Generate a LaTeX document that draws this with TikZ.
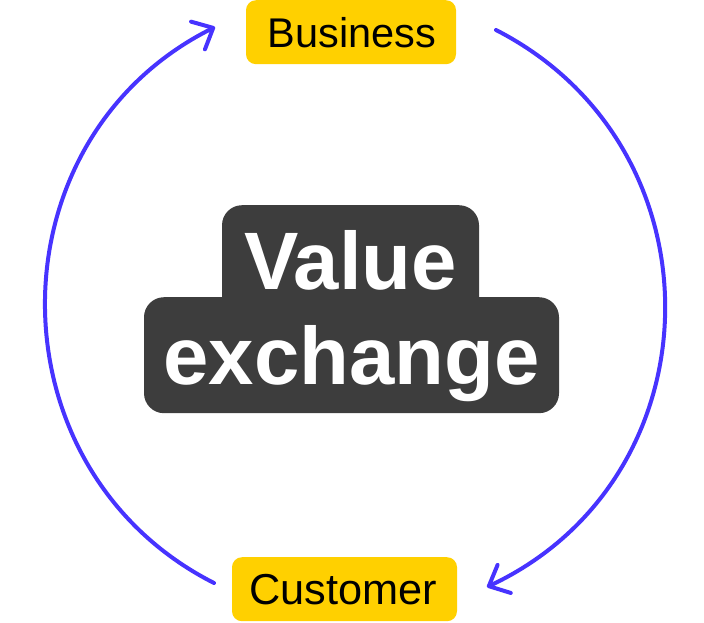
\documentclass[tikz,border=0pt]{standalone}
\usepackage{fontspec}
\setmainfont{Liberation Sans}
\usetikzlibrary{arrows.meta}
\definecolor{tagyellow}{HTML}{FFD000}
\definecolor{coredark}{HTML}{3D3D3D}
\definecolor{flowblue}{HTML}{4733FF}
\tikzset{
    tag/.style={fill=tagyellow, rounded corners=10pt, anchor=north, text=black, align=center,
        text height=47pt, text depth=17pt, font=\fontsize{41.5}{50}\selectfont},
    core/.style={fill=coredark, rounded corners=20pt, anchor=north, text=white, align=center,
        font=\bfseries\fontsize{81.5}{90}\selectfont},
    flow/.style={draw=flowblue, line width=4pt, line cap=round, looseness=1.18,
        -{Straight Barb[length=17pt,width=31pt,round]}}
}
\begin{document}
\begin{tikzpicture}[x=1pt,y=1pt]
                \tikzstyle{every node}+=[inner sep=0pt]
                \useasboundingbox (0,0) rectangle (704,-622);
                % the two boxes overlap, the lower one hides the corners of the upper one
                \node [core, text width=257pt, text height=84pt, text depth=36pt] (value) at (350.5,-205) {Value};
                \node [core, text width=415pt, text height=87pt, text depth=29pt] (exchange) at (351.5,-297) {exchange};
                \node [tag, text width=210pt] (business) at (351,0) {Business\hspace*{-2pt}};
                \node [tag, text width=225pt, font=\fontsize{43.3}{50}\selectfont] (customer) at (344.5,-557) {Customer\hspace*{2pt}};
                \coordinate (businessout) at (496,-30);
                \coordinate (customerin) at (487,-587);
                \coordinate (customerout) at (214,-583);
                \coordinate (businessin) at (215,-27);
                \draw [flow] (businessout) to[out=-27.1,in=25.2] (customerin);
                \draw [flow, looseness=1.16] (customerout) to[out=153.1,in=206.6] (businessin);
            \end{tikzpicture}
\end{document}
